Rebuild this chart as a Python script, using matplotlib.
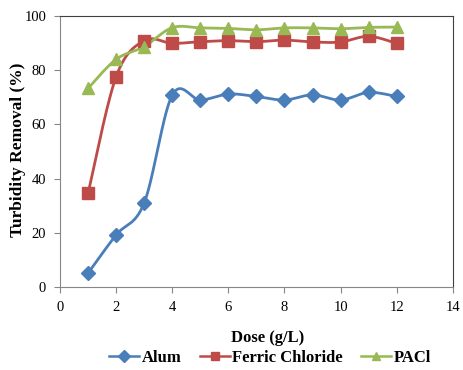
import numpy as np
import matplotlib
matplotlib.use("Agg")
import matplotlib.pyplot as plt
from matplotlib.lines import Line2D

plt.rcParams['font.family'] = ['Liberation Serif', 'DejaVu Serif']

dose = [1, 2, 3, 4, 5, 6, 7, 8, 9, 10, 11, 12]
alum = [5.1, 19.2, 31.0, 70.8, 69.0, 71.2, 70.3, 69.0, 70.9, 69.0, 71.8, 70.3]
ferric = [34.6, 77.6, 90.9, 89.9, 90.5, 90.9, 90.5, 91.1, 90.4, 90.4, 92.5, 89.9]
pacl = [73.3, 84.0, 88.7, 95.7, 95.6, 95.4, 94.9, 95.6, 95.6, 95.3, 95.8, 95.9]
series_names = ["Alum", "Ferric Chloride", "PACl"]
xticks = [0, 2, 4, 6, 8, 10, 12, 14]
yticks = [0, 20, 40, 60, 80, 100]


def smooth(x, y, n=30):
    # Excel-like smoothed line (Catmull-Rom Bezier)
    x = np.asarray(x, float); y = np.asarray(y, float)
    px = np.concatenate([[x[0]], x, [x[-1]]])
    py = np.concatenate([[y[0]], y, [y[-1]]])
    xs, ys = [], []
    t = np.linspace(0, 1, n)
    for i in range(1, len(px) - 2):
        p0 = np.array([px[i], py[i]]); p3 = np.array([px[i + 1], py[i + 1]])
        p1 = p0 + (np.array([px[i + 1], py[i + 1]]) - np.array([px[i - 1], py[i - 1]])) / 6
        p2 = p3 - (np.array([px[i + 2], py[i + 2]]) - np.array([px[i], py[i]])) / 6
        b = ((1 - t) ** 3)[:, None] * p0 + (3 * (1 - t) ** 2 * t)[:, None] * p1 + \
            (3 * (1 - t) * t ** 2)[:, None] * p2 + (t ** 3)[:, None] * p3
        xs.extend(b[:, 0]); ys.extend(b[:, 1])
    return xs, ys


fig = plt.figure(figsize=(4.63, 3.70), dpi=100)
ax = fig.add_axes([0.1296, 0.2243, 0.8484, 0.7325])

colors = ['#4A7EBB', '#BE4B48', '#98B954']
markers = ['D', 's', '^']
msizes = [7.5, 8.5, 9]
for vals, c, m, ms in zip([alum, ferric, pacl], colors, markers, msizes):
    sx, sy = smooth(dose, vals)
    ax.plot(sx, sy, color=c, lw=2, solid_capstyle='round', zorder=2)
    ax.plot(dose, vals, ls='none', marker=m, ms=ms, color=c, mec=c, zorder=3)

ax.set_xlim(0, 14)
ax.set_ylim(0, 100)
ax.set_xticks(xticks)
ax.set_yticks(yticks)
ax.tick_params(direction='out', length=4, width=0.8, color='#868686', labelsize=10.5, pad=6)
for s in ['left', 'bottom']:
    ax.spines[s].set_color('#868686')
for s in ['top', 'right']:
    ax.spines[s].set_color('#404040')

fig.text(268 / 463, 1 - 338 / 370, 'Dose (g/L)', fontsize=12, fontweight='bold',
         ha='center', va='center')
fig.text(18 / 463, 1 - 150 / 370, 'Turbidity Removal (%)', fontsize=12.5, fontweight='bold',
         ha='center', va='center', rotation=90)

handles = [Line2D([0], [0], color=c, lw=1.8, marker=m, ms=6, mec=c)
           for c, m in zip(colors, markers)]
fig.legend(handles, series_names, loc='center', bbox_to_anchor=(270 / 463, 1 - 358 / 370), ncol=3,
           frameon=False, prop={'weight': 'bold', 'size': 12}, handlelength=1.8,
           handletextpad=0.15, columnspacing=1.1, borderaxespad=0)

fig.savefig('out.png', dpi=100)
